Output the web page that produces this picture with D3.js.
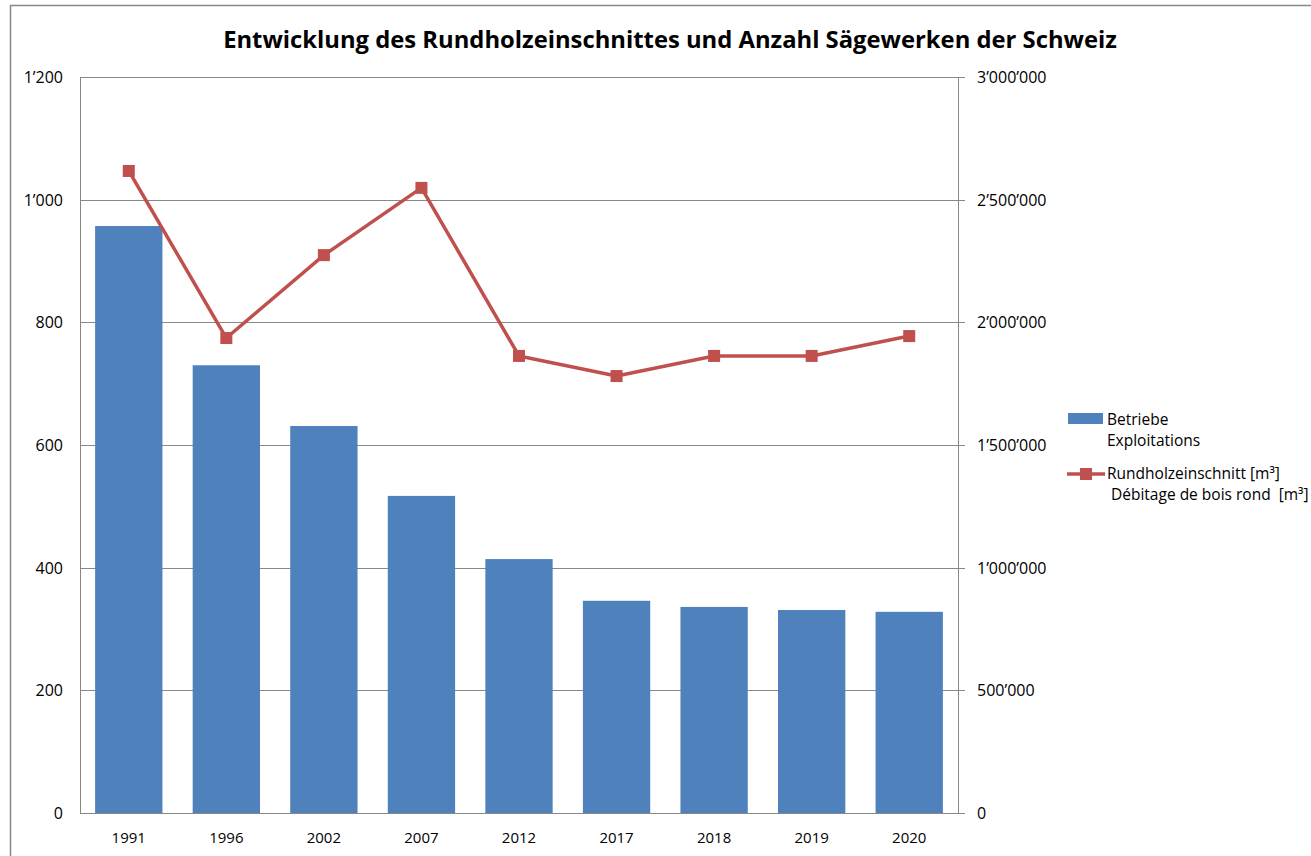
<!DOCTYPE html>
<html>
<head>
<meta charset="utf-8">
<script src="https://cdn.jsdelivr.net/npm/d3@7"></script>
<style>
  body { margin: 0; background: #fff; }
  text { font-family: "Open Sans", "Noto Sans", sans-serif; fill: #000; }
</style>
</head>
<body>
<div id="chart"></div>
<script>
const years = ["1991", "1996", "2002", "2007", "2012", "2017", "2018", "2019", "2020"];
const betriebe = [957, 730, 631, 517, 414, 346, 336, 331, 328];
const rundholz = [2617000, 1936000, 2274000, 2548000, 1863000, 1781000, 1863000, 1863000, 1944000];
const leftTicks = [0, 200, 400, 600, 800, 1000, 1200];
const rightTicks = [0, 500000, 1000000, 1500000, 2000000, 2500000, 3000000];

const W = 1311, H = 856;
const plot = { left: 80, top: 77, right: 958, bottom: 813 };
const barColor = "#4F81BD", lineColor = "#C0504D";

const fmt = v => d3.format(",")(v).replace(/,/g, "\u2019");

const svg = d3.select("#chart").append("svg").attr("width", W).attr("height", H);

// outer frame
svg.append("rect").attr("x", 10.5).attr("y", 5.5).attr("width", W + 20).attr("height", H + 20)
  .attr("fill", "none").attr("stroke", "#888").attr("stroke-width", 1.5);

const x = d3.scaleBand().domain(years).range([plot.left, plot.right]).paddingInner(0.31).paddingOuter(0.155);
const yL = d3.scaleLinear().domain([0, 1200]).range([plot.bottom, plot.top]);
const yR = d3.scaleLinear().domain([0, 3000000]).range([plot.bottom, plot.top]);

// gridlines
svg.append("g").selectAll("line").data(leftTicks.filter(t => t > 0)).enter().append("line")
  .attr("x1", plot.left).attr("x2", plot.right)
  .attr("y1", d => Math.round(yL(d)) + 0.5).attr("y2", d => Math.round(yL(d)) + 0.5)
  .attr("stroke", "#888").attr("stroke-width", 1);

// plot borders left/right
svg.append("line").attr("x1", plot.left + 0.5).attr("x2", plot.left + 0.5).attr("y1", plot.top).attr("y2", plot.bottom)
  .attr("stroke", "#888");
svg.append("line").attr("x1", plot.right + 0.5).attr("x2", plot.right + 0.5).attr("y1", plot.top).attr("y2", plot.bottom)
  .attr("stroke", "#888");

// bars
svg.append("g").selectAll("rect").data(years).enter().append("rect")
  .attr("x", d => x(d))
  .attr("y", (d, i) => yL(betriebe[i]))
  .attr("width", x.bandwidth())
  .attr("height", (d, i) => plot.bottom - yL(betriebe[i]))
  .attr("fill", barColor);

// baseline + right axis ticks
svg.append("line").attr("x1", plot.left).attr("x2", plot.right + 7).attr("y1", plot.bottom + 0.5).attr("y2", plot.bottom + 0.5)
  .attr("stroke", "#888");
svg.append("g").selectAll("line").data(rightTicks).enter().append("line")
  .attr("x1", plot.right).attr("x2", plot.right + 7)
  .attr("y1", d => Math.round(yR(d)) + 0.5).attr("y2", d => Math.round(yR(d)) + 0.5)
  .attr("stroke", "#888");

// left tick labels
svg.append("g").selectAll("text").data(leftTicks).enter().append("text")
  .attr("x", 63).attr("y", d => yL(d) + 6)
  .attr("text-anchor", "end").attr("font-size", 16)
  .text(fmt);

// right tick labels
svg.append("g").selectAll("text").data(rightTicks).enter().append("text")
  .attr("x", 977).attr("y", d => yR(d) + 6)
  .attr("font-size", 16)
  .text(fmt);

// x labels
svg.append("g").selectAll("text").data(years).enter().append("text")
  .attr("x", d => x(d) + x.bandwidth() / 2).attr("y", 843)
  .attr("text-anchor", "middle").attr("font-size", 15)
  .text(d => d);

// line
const line = d3.line().x((d, i) => x(years[i]) + x.bandwidth() / 2).y(d => yR(d));
svg.append("path").datum(rundholz).attr("d", line)
  .attr("fill", "none").attr("stroke", lineColor).attr("stroke-width", 3.5).attr("stroke-linejoin", "round");
svg.append("g").selectAll("rect").data(rundholz).enter().append("rect")
  .attr("x", (d, i) => x(years[i]) + x.bandwidth() / 2 - 6)
  .attr("y", d => yR(d) - 6)
  .attr("width", 12).attr("height", 12)
  .attr("fill", lineColor);

// title
svg.append("text").attr("x", 670).attr("y", 48).attr("text-anchor", "middle")
  .attr("font-size", 23.8).attr("font-weight", "bold")
  .text("Entwicklung des Rundholzeinschnittes und Anzahl Sägewerken der Schweiz");

// legend
const lg = svg.append("g");
lg.append("rect").attr("x", 1068).attr("y", 413).attr("width", 35).attr("height", 11).attr("fill", barColor);
lg.append("text").attr("x", 1107).attr("y", 425).attr("font-size", 15.5).text("Betriebe");
lg.append("text").attr("x", 1107).attr("y", 446).attr("font-size", 15.5).text("Exploitations");
lg.append("line").attr("x1", 1067).attr("x2", 1105).attr("y1", 474).attr("y2", 474)
  .attr("stroke", lineColor).attr("stroke-width", 3.5);
lg.append("rect").attr("x", 1080).attr("y", 468).attr("width", 12).attr("height", 12).attr("fill", lineColor);
lg.append("text").attr("x", 1107).attr("y", 479).attr("font-size", 15.5).text("Rundholzeinschnitt [m³]");
lg.append("text").attr("x", 1111).attr("y", 500).attr("font-size", 15.5).attr("xml:space", "preserve").text("Débitage de bois rond  [m³]");
</script>
</body>
</html>
